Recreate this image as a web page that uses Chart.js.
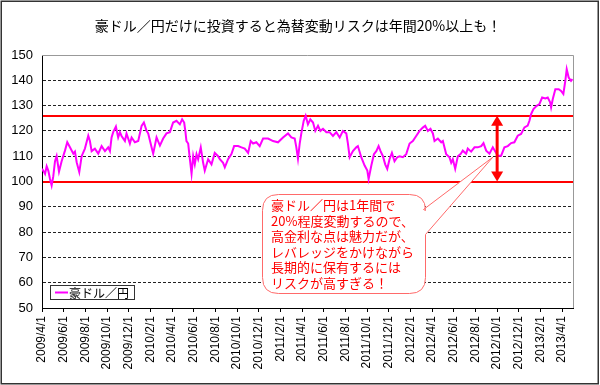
<!DOCTYPE html>
<html><head><meta charset="utf-8">
<script src="https://cdn.jsdelivr.net/npm/chart.js@4.4.1/dist/chart.umd.min.js"></script>
<style>html,body{margin:0;padding:0;background:#fff}#wrap{width:600px;height:385px;position:relative}</style>
</head><body><div id="wrap"><canvas id="c" width="600" height="385"></canvas></div>
<script>
const chartTitle = '豪ドル／円だけに投資すると為替変動リスクは年間20%以上も！';
const seriesName = '豪ドル／円';
// months elapsed since 2009/4/1
const monthOffsets = [0.00,0.15,0.28,0.43,0.58,0.74,0.89,1.04,1.2,1.35,1.57,1.81,2.12,2.33,2.58,2.89,3.04,3.2,3.44,3.66,3.96,4.27,4.42,4.58,4.88,5.19,5.5,5.81,6.11,6.27,6.42,6.57,6.82,7.03,7.19,7.34,7.65,7.8,8.11,8.27,8.57,8.88,9.19,9.4,9.65,9.8,10.11,10.26,10.57,10.88,11.18,11.49,11.8,12.1,12.41,12.72,12.93,13.12,13.24,13.33,13.49,13.64,13.8,13.95,14.1,14.26,14.41,14.65,14.87,15.02,15.33,15.64,15.94,16.25,16.41,16.71,16.87,17.17,17.48,17.73,18.1,18.4,18.71,19.02,19.26,19.48,19.78,20.09,20.4,20.86,21.32,21.78,22.24,22.7,23.01,23.32,23.47,23.62,23.78,23.93,24.15,24.33,24.54,24.76,25.01,25.22,25.47,25.69,25.93,26.24,26.54,26.85,27.16,27.47,27.77,28.08,28.23,28.39,28.69,29.0,29.15,29.46,29.77,30.02,30.14,30.39,30.63,30.85,31.06,31.24,31.46,31.67,31.86,32.07,32.29,32.53,32.78,33.0,33.3,33.61,33.92,34.22,34.53,34.84,35.14,35.36,35.61,35.85,36.07,36.22,36.53,36.84,36.99,37.3,37.6,37.76,37.91,38.13,38.37,38.62,38.83,39.14,39.29,39.6,39.91,40.21,40.53,40.74,40.99,41.29,41.6,41.84,42.06,42.37,42.67,42.98,43.29,43.59,43.9,44.21,44.52,44.82,44.98,45.13,45.35,45.65,45.9,46.15,46.45,46.67,46.89,46.98,47.13,47.37,47.68,47.9,48.11,48.29,48.42,48.6,48.82,48.95];
const audJpy = [105,104,103,106,104.3,101,98.4,102,108,110,103.9,108,112.2,115.5,113.5,111,111.8,107.6,103.7,110,113,118.1,116,112,113,111,114,112,113.5,112,117.4,119.5,121.7,117.4,119.5,118,116,119,115,117.4,115.5,116,122,123.3,120,119,113.5,111,117.4,114.2,117,119,119.5,123.3,124,122.6,124.6,123.3,119.5,116,115,109,103.1,110,106.8,110.8,108.8,113.5,107.4,104.3,108.8,106.8,111.3,110,108.8,107.4,105.6,108.8,110.8,114,114,113.5,113,111.3,116,115,115.5,114,117,117,116,115.5,117.4,119,117.4,117,113.5,109,115,119,124,126,122.6,124.6,123.3,120,122,120,120.8,119.5,119.5,118,119.5,117.4,120,119,115,109.6,112,113.5,114,109.6,106.3,104.3,101,106.3,110.8,112,114,112,110,106.8,105,108.8,111.3,108,109.6,110,109.6,110.8,115,116,118,120,121.3,122,120,120.8,119,116,117,115.5,116,110.8,109.6,107.4,108.8,105,110,110.8,112.2,111,113,111.8,113.5,113.5,114,115.2,112.2,111,113.5,111.8,110.2,110.2,113.5,114,115.2,115.5,118.1,118.8,121.4,122.1,124,126.6,128.6,129.9,130.6,133.2,132.8,133.2,131.3,129.3,132.5,136.5,136.5,135.8,134.6,139.8,144.4,141.1,139.8,140.5];
const yMin = 50, yMax = 150, yStep = 10;
const xMin = 0, xMax = 49, xStep = 2;
const startYear = 2009, startMonth = 4;
const bandValues = [100, 126];
const arrowMonth = 42;
const calloutTarget = {x: 41.6, y: 109.6};
const calloutLines = ['豪ドル／円は1年間で','20%程度変動するので、','高金利な点は魅力だが、','レバレッジをかけながら','長期的に保有するには','リスクが高すぎる！'];

function monthLabel(v){
  const idx = startMonth - 1 + Math.round(v);
  return (startYear + Math.floor(idx / 12)) + '/' + (idx % 12 + 1) + '/1';
}

const JP = "'Noto Sans CJK JP', sans-serif";
const NUM = "'Liberation Sans', 'Noto Sans CJK JP', sans-serif";

const deco = {
  id: 'deco',
  beforeDraw(chart){
    const ctx = chart.ctx;
    ctx.save(); ctx.fillStyle = '#fff'; ctx.fillRect(0,0,chart.width,chart.height); ctx.restore();
  },
  beforeDatasetsDraw(chart){
    const {ctx, chartArea: a, scales: {y}} = chart;
    ctx.save();
    ctx.strokeStyle = '#999'; ctx.lineWidth = 1;
    ctx.beginPath();
    ctx.moveTo(a.left, Math.round(a.top) + 0.5); ctx.lineTo(Math.round(a.right) + 0.5, Math.round(a.top) + 0.5);
    ctx.lineTo(Math.round(a.right) + 0.5, a.bottom);
    ctx.stroke();
    ctx.strokeStyle = '#ff0000'; ctx.lineWidth = 2;
    bandValues.forEach(v => {
      const py = Math.round(y.getPixelForValue(v));
      ctx.beginPath(); ctx.moveTo(a.left + 1, py); ctx.lineTo(a.right, py); ctx.stroke();
    });
    ctx.restore();
  },
  afterDatasetsDraw(chart){
    const {ctx, chartArea: a, scales: {x, y}} = chart;
    ctx.save();
    // double arrow
    const ax = x.getPixelForValue(arrowMonth);
    const y1 = y.getPixelForValue(bandValues[1]), y2 = y.getPixelForValue(bandValues[0]);
    const hw = 6, hl = 10;
    ctx.strokeStyle = '#ff0000'; ctx.fillStyle = '#ff0000'; ctx.lineWidth = 3;
    ctx.beginPath(); ctx.moveTo(ax, y1 + hl - 1); ctx.lineTo(ax, y2 - hl + 1); ctx.stroke();
    ctx.beginPath(); ctx.moveTo(ax, y1); ctx.lineTo(ax - hw, y1 + hl); ctx.lineTo(ax + hw, y1 + hl); ctx.closePath(); ctx.fill();
    ctx.beginPath(); ctx.moveTo(ax, y2); ctx.lineTo(ax - hw, y2 - hl); ctx.lineTo(ax + hw, y2 - hl); ctx.closePath(); ctx.fill();
    // callout
    const bx = 262.5, by = 194.5, bw = 163, bh = 99, r = 16;
    const tx = x.getPixelForValue(calloutTarget.x), ty = y.getPixelForValue(calloutTarget.y);
    const R = bx + bw, B = by + bh;
    ctx.beginPath();
    ctx.moveTo(bx + r, by);
    ctx.lineTo(R - r, by);
    ctx.quadraticCurveTo(R, by, R, by + r);
    ctx.lineTo(R - 2, by + 15);
    ctx.lineTo(tx, ty);
    ctx.lineTo(R, by + 40);
    ctx.lineTo(R, B - r);
    ctx.quadraticCurveTo(R, B, R - r, B);
    ctx.lineTo(bx + r, B);
    ctx.quadraticCurveTo(bx, B, bx, B - r);
    ctx.lineTo(bx, by + r);
    ctx.quadraticCurveTo(bx, by, bx + r, by);
    ctx.closePath();
    ctx.fillStyle = '#fff'; ctx.fill();
    ctx.strokeStyle = '#ff6a6a'; ctx.lineWidth = 1; ctx.stroke();
    ctx.fillStyle = '#ff0000';
    ctx.font = '13px ' + JP; ctx.textBaseline = 'middle'; ctx.textAlign = 'left';
    calloutLines.forEach((t, i) => ctx.fillText(t, 271, 205 + i * 15.6));
    // legend
    ctx.fillStyle = '#fff'; ctx.fillRect(50.5, 285.5, 84, 14);
    ctx.strokeStyle = '#333'; ctx.lineWidth = 1; ctx.strokeRect(50.5, 285.5, 84, 14);
    ctx.strokeStyle = '#ff00ff'; ctx.lineWidth = 2;
    ctx.beginPath(); ctx.moveTo(55, 292.5); ctx.lineTo(68, 292.5); ctx.stroke();
    ctx.fillStyle = '#000'; ctx.font = '12px ' + JP; ctx.textBaseline = 'middle';
    ctx.fillText(chart.data.datasets[0].label, 69, 293);
    ctx.restore();
  },
  afterDraw(chart){
    const ctx = chart.ctx;
    ctx.save();
    ctx.fillStyle = '#000'; ctx.font = '14px ' + JP; ctx.textAlign = 'center'; ctx.textBaseline = 'middle';
    ctx.fillText(chartTitle, 298, 26);
    ctx.strokeStyle = '#333'; ctx.lineWidth = 1.5;
    ctx.strokeRect(1.25, 1.25, 597, 382.5);
    ctx.restore();
  }
};

new Chart(document.getElementById('c'), {
  type: 'line',
  data: {
    datasets: [{
      label: seriesName,
      data: monthOffsets.map((m, i) => ({x: m, y: audJpy[i]})),
      borderColor: '#ff00ff', borderWidth: 2, pointRadius: 0, tension: 0, fill: false
    }]
  },
  options: {
    responsive: false, animation: false, devicePixelRatio: 1,
    layout: {padding: {top: 55, right: 27, left: 0, bottom: 0}},
    plugins: {legend: {display: false}, title: {display: false}, tooltip: {enabled: false}},
    scales: {
      x: {
        type: 'linear', min: xMin, max: xMax,
        ticks: {stepSize: xStep, includeBounds: false, autoSkip: false, maxRotation: 90, minRotation: 90,
          callback: v => monthLabel(v), font: {family: NUM, size: 12}, color: '#000', padding: 4},
        grid: {drawOnChartArea: false, drawTicks: true, tickLength: 4, color: '#000'},
        border: {color: '#000', width: 1},
        afterFit: s => { s.height = 77; }
      },
      y: {
        min: yMin, max: yMax,
        ticks: {stepSize: yStep, font: {family: NUM, size: 13}, color: '#000', padding: 9},
        grid: {drawTicks: false, lineWidth: 1,
          color: c => (c.tick && (c.tick.value === yMin || c.tick.value === yMax)) ? 'rgba(0,0,0,0)' : '#222'},
        border: {color: '#000', width: 1, dash: [3, 2]},
        afterFit: s => { s.width = 42; }
      }
    }
  },
  plugins: [deco]
});
</script>
</body></html>
